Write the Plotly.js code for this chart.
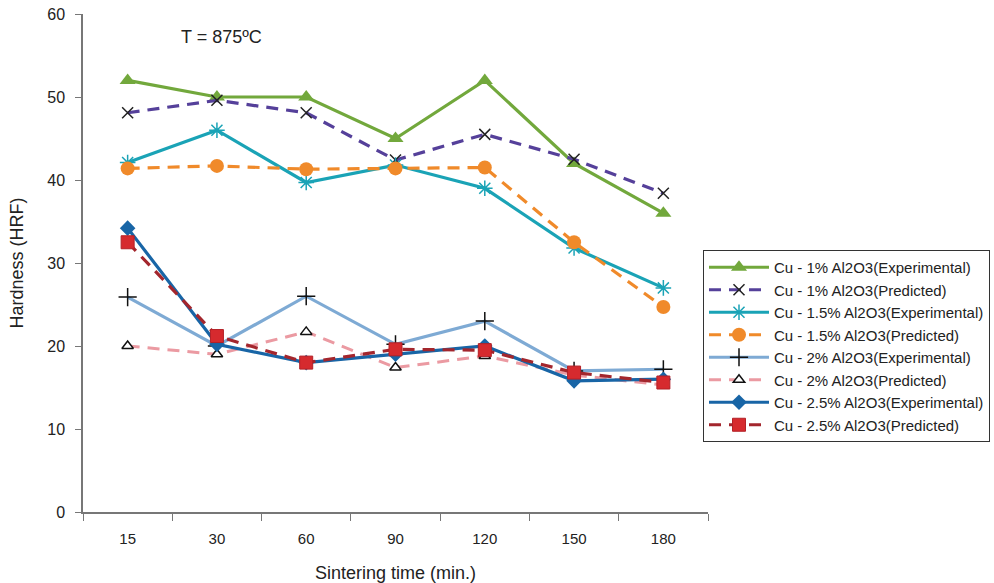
<!DOCTYPE html>
<html>
<head>
<meta charset="utf-8">
<script src="https://cdn.plot.ly/plotly-3.0.1.min.js"></script>
<style>html,body{margin:0;padding:0;background:#fff;}#chart{width:994px;height:583px;}</style>
</head>
<body>
<div id="chart"></div>
<script>
const categories = ["15", "30", "60", "90", "120", "150", "180"];
const cu1Exp   = [52, 50, 50, 45, 52, 42, 36];
const cu1Pred  = [48.1, 49.6, 48.1, 42.4, 45.5, 42.5, 38.4];
const cu15Exp  = [42.1, 46, 39.7, 41.8, 39, 31.8, 27];
const cu15Pred = [41.4, 41.7, 41.3, 41.4, 41.5, 32.5, 24.7];
const cu2Exp   = [25.9, 20, 26, 20.2, 23, 17, 17.2];
const cu2Pred  = [20, 19, 21.7, 17.4, 18.8, 16.5, 15.3];
const cu25Exp  = [34.2, 20.2, 18, 19, 20, 15.8, 16];
const cu25Pred = [32.5, 21.2, 18, 19.6, 19.5, 16.8, 15.6];
const seriesNames = [
  "Cu - 1% Al2O3(Experimental)",
  "Cu - 1% Al2O3(Predicted)",
  "Cu - 1.5% Al2O3(Experimental)",
  "Cu - 1.5% Al2O3(Predicted)",
  "Cu - 2% Al2O3(Experimental)",
  "Cu - 2% Al2O3(Predicted)",
  "Cu - 2.5% Al2O3(Experimental)",
  "Cu - 2.5% Al2O3(Predicted)"
];

const dash = "12px,8px";
const traces = [
  {y: cu1Exp, line: {color: "#72a83c", width: 3.2},
   marker: {symbol: "triangle-up", size: 14, color: "#72a83c"}},
  {y: cu1Pred, line: {color: "#55409a", width: 3.2, dash: dash},
   marker: {symbol: "x-thin-open", size: 11, color: "#222", line: {color: "#222", width: 1.5}}},
  {y: cu15Exp, line: {color: "#1aa3b6", width: 3.2},
   marker: {symbol: "asterisk-open", size: 13, color: "#1aa3b6", line: {color: "#1aa3b6", width: 1.5}}},
  {y: cu15Pred, line: {color: "#f08a2a", width: 3.2, dash: dash},
   marker: {symbol: "circle", size: 14, color: "#f08a2a"}},
  {y: cu2Exp, line: {color: "#7eaad4", width: 3.2},
   marker: {symbol: "cross-thin-open", size: 13, color: "#111", line: {color: "#111", width: 1.5}}},
  {y: cu2Pred, line: {color: "#eb9aa2", width: 3, dash: dash},
   marker: {symbol: "triangle-up", size: 10, color: "#fff", line: {color: "#111", width: 1.5}}},
  {y: cu25Exp, line: {color: "#1865a6", width: 3.2},
   marker: {symbol: "diamond", size: 12, color: "#1865a6"}},
  {y: cu25Pred, line: {color: "#a3262d", width: 3.2, dash: dash},
   marker: {symbol: "square", size: 13, color: "#d62a2e", line: {color: "#b32127", width: 1}}}
].map((t, i) => Object.assign({type: "scatter", mode: "lines+markers", x: categories, name: seriesNames[i]}, t));

const layout = {
  width: 994, height: 583,
  margin: {l: 83, r: 286, t: 14, b: 71, autoexpand: false},
  paper_bgcolor: "#fff", plot_bgcolor: "#fff",
  font: {family: "Liberation Sans, Arial, sans-serif", size: 15, color: "#222"},
  showlegend: true,
  legend: {
    x: (703 - 83) / (994 - 83 - 286), xanchor: "left", y: (512 - 250) / (512 - 14), yanchor: "top",
    bordercolor: "#333", borderwidth: 1, bgcolor: "#fff",
    font: {size: 15, color: "#222"}, tracegroupgap: 0, itemwidth: 60
  },
  xaxis: {
    type: "category", tickson: "boundaries", ticks: "outside", ticklen: 7,
    tickcolor: "#777", linecolor: "#777", linewidth: 1.5, showline: true,
    showgrid: false, zeroline: false, ticklabelstandoff: 12,
    tickfont: {size: 15}, range: [-0.5, 6.5],
    title: {text: "Sintering time (min.)", font: {size: 18}, standoff: 22}
  },
  yaxis: {
    range: [0, 60], dtick: 10, ticks: "outside", ticklen: 6,
    tickcolor: "#777", linecolor: "#777", linewidth: 1.5, showline: true,
    showgrid: false, zeroline: false, tickfont: {size: 16}, ticklabelstandoff: 7,
    title: {text: "Hardness (HRF)", font: {size: 18}, standoff: 19}
  },
  annotations: [{
    text: "T = 875ºC", xref: "paper", yref: "paper", x: (179 - 83) / 625, y: (512 - 37) / 498,
    xanchor: "left", yanchor: "middle", showarrow: false, font: {size: 18, color: "#222"}
  }]
};

Plotly.newPlot("chart", traces, layout, {displayModeBar: false, responsive: false});
</script>
</body>
</html>
